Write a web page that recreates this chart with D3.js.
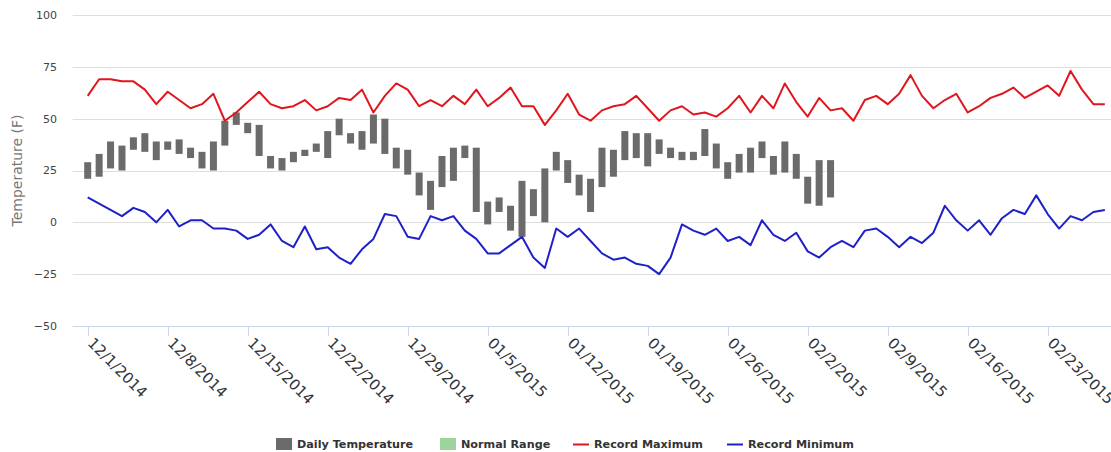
<!DOCTYPE html>
<html>
<head>
<meta charset="utf-8">
<script src="https://cdn.jsdelivr.net/npm/d3@7"></script>
<style>
  body { margin: 0; background: #fff; }
  svg { display: block; font-family: "DejaVu Sans", Verdana, sans-serif; }
</style>
</head>
<body>
<svg id="chart" width="1111" height="452"></svg>
<script>
// daily observed range, 12/1/2014 .. 2/4/2015
const dailyLow = [21,22,26,25,35,34,30,35,33,31,26,25,37,47,43,32,26,25,29,32,
    34,31,42,38,35,38,33,26,23,13,6,17,20,31,5,-1,5,-4,-7,3,
    0,25,19,13,5,17,22,30,31,27,33,31,30,30,32,26,21,24,24,31,
    23,24,21,9,8,12];
const dailyHigh = [29,33,39,37,41,43,39,39,40,36,34,39,49,53,48,47,32,31,34,35,
    38,44,50,43,44,52,50,36,35,24,20,32,36,37,36,10,12,8,20,16,
    26,34,30,23,21,36,35,44,43,43,40,36,34,34,45,38,29,33,36,39,
    32,39,33,22,30,30];

// records, 12/1/2014 .. 2/28/2015
const recordMax = [61,69,69,68,68,64,57,63,59,55,57,62,49,53,58,63,57,55,56,59,
    54,56,60,59,64,53,61,67,64,56,59,56,61,57,64,56,60,65,56,56,
    47,54,62,52,49,54,56,57,61,55,49,54,56,52,53,51,55,61,53,61,
    55,67,58,51,60,54,55,49,59,61,57,62,71,61,55,59,62,53,56,60,
    62,65,60,63,66,61,73,64,57,57];
const recordMin = [12,9,6,3,7,5,0,6,-2,1,1,-3,-3,-4,-8,-6,-1,-9,-12,-2,
    -13,-12,-17,-20,-13,-8,4,3,-7,-8,3,1,3,-4,-8,-15,-15,-11,-7,-17,
    -22,-3,-7,-3,-9,-15,-18,-17,-20,-21,-25,-17,-1,-4,-6,-3,-9,-7,-11,1,
    -6,-9,-5,-14,-17,-12,-9,-12,-4,-3,-7,-12,-7,-10,-5,8,1,-4,1,-6,
    2,6,4,13,4,-3,3,1,5,6];

const tickLabels = ["12/1/2014","12/8/2014","12/15/2014","12/22/2014","12/29/2014",
    "01/5/2015","01/12/2015","01/19/2015","01/26/2015","02/2/2015",
    "02/9/2015","02/16/2015","02/23/2015"];
const yTicks = [-50,-25,0,25,50,75,100];

const legendItems = [
    {name: "Daily Temperature", type: "rect", color: "#6b6b6b"},
    {name: "Normal Range", type: "rect", color: "#9dd49d"},
    {name: "Record Maximum", type: "line", color: "#e0161d"},
    {name: "Record Minimum", type: "line", color: "#2020c8"}
];

const startDay = new Date(Date.UTC(2014, 11, 1));
const days = d3.utcDay.range(startDay, d3.utcDay.offset(startDay, recordMax.length));
const dayW = 80 / 7;

const svg = d3.select("#chart");
const plotLeft = 72.7, plotRight = 1111;

const x = d3.scaleUtc()
    .domain([days[0], days[days.length - 1]])
    .range([87.7, 87.7 + (days.length - 1) * dayW]);
const y = d3.scaleLinear().domain([-50, 100]).range([326, 15]);

// grid
svg.append("g").selectAll("line")
    .data(yTicks)
    .join("line")
    .attr("x1", plotLeft).attr("x2", plotRight)
    .attr("y1", d => Math.round(y(d)) + 0.5).attr("y2", d => Math.round(y(d)) + 0.5)
    .attr("stroke", d => d === -50 ? "#ccd6eb" : "#dedede")
    .attr("stroke-width", 1);

// y labels
svg.append("g").selectAll("text")
    .data(yTicks)
    .join("text")
    .attr("x", 57)
    .attr("y", d => y(d))
    .attr("dy", "0.35em")
    .attr("text-anchor", "end")
    .attr("fill", "#444")
    .style("font-size", "11px")
    .text(d => d === -50 || d === -25 ? "\u2212" + Math.abs(d) : d);

svg.append("text")
    .attr("transform", `translate(22,${(y(-50) + y(100)) / 2}) rotate(-90)`)
    .attr("text-anchor", "middle")
    .attr("fill", "#777")
    .style("font-size", "14px")
    .text("Temperature (F)");

// x ticks
const tickDays = tickLabels.map((t, i) => d3.utcDay.offset(startDay, i * 7));
const xt = svg.append("g");
xt.selectAll("line")
    .data(tickDays)
    .join("line")
    .attr("x1", d => Math.round(x(d)) + 0.5).attr("x2", d => Math.round(x(d)) + 0.5)
    .attr("y1", 326).attr("y2", 336)
    .attr("stroke", "#ccd6eb");
xt.selectAll("text")
    .data(tickDays)
    .join("text")
    .attr("transform", d => `translate(${x(d) - 1},${344}) rotate(45)`)
    .attr("fill", "#333")
    .style("font-size", "15px")
    .text((d, i) => tickLabels[i]);

// daily bars
const barW = 7;
svg.append("g").selectAll("rect")
    .data(dailyLow)
    .join("rect")
    .attr("x", (d, i) => x(days[i]) - barW / 2)
    .attr("y", (d, i) => y(dailyHigh[i]))
    .attr("width", barW)
    .attr("height", (d, i) => y(d) - y(dailyHigh[i]))
    .attr("fill", "#6b6b6b");

// record lines
const line = d3.line().x((d, i) => x(days[i])).y(d => y(d));
svg.append("path").datum(recordMax)
    .attr("d", line).attr("fill", "none")
    .attr("stroke", "#e0161d").attr("stroke-width", 2).attr("stroke-linejoin", "round");
svg.append("path").datum(recordMin)
    .attr("d", line).attr("fill", "none")
    .attr("stroke", "#2020c8").attr("stroke-width", 2).attr("stroke-linejoin", "round");

// legend
const legendX = [276, 440, 573, 727];
const lg = svg.append("g").selectAll("g")
    .data(legendItems)
    .join("g")
    .attr("transform", (d, i) => `translate(${legendX[i]},444)`);
lg.each(function(d) {
    const g = d3.select(this);
    if (d.type === "rect") {
        g.append("rect").attr("x", 0).attr("y", -6).attr("width", 16).attr("height", 12)
            .attr("fill", d.color);
    } else {
        g.append("line").attr("x1", 0).attr("x2", 16).attr("y1", 0.5).attr("y2", 0.5)
            .attr("stroke", d.color).attr("stroke-width", 2);
    }
    g.append("text")
        .attr("x", 21)
        .attr("dy", "0.35em")
        .attr("fill", "#333")
        .style("font-size", "11.2px")
        .style("font-weight", "bold")
        .text(d.name);
});
</script>
</body>
</html>
